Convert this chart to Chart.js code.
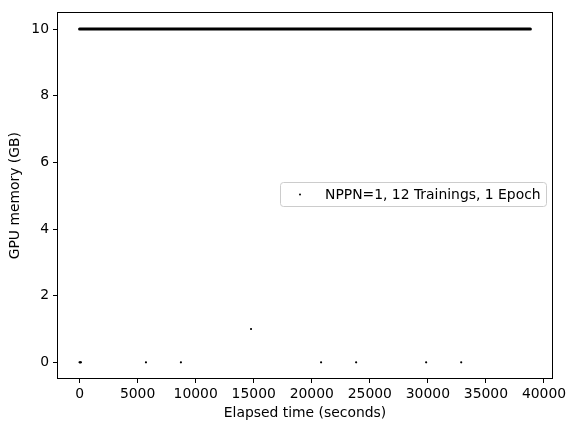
<!DOCTYPE html>
<html>
<head>
<meta charset="utf-8">
<script src="https://cdn.jsdelivr.net/npm/chart.js@4"></script>
<style>
html, body { margin: 0; padding: 0; background: #fff; }
#wrap { width: 576px; height: 432px; }
</style>
</head>
<body>
<div id="wrap"><canvas id="chart" width="576" height="432"></canvas></div>
<script>
// samples (seconds, GB)
const seriesLabel = 'NPPN=1, 12 Trainings, 1 Epoch'
const sampleTimes = [0, 60, 120, 5720, 8730, 14770, 20800, 23820, 29850, 32870]
const sampleMemory = [0, 0, 0, 0, 0, 1, 0, 0, 0, 0]
// the 10 GB samples are so dense they form a solid band
const plateauTimes = [0, 38830]
const plateauMemory = [10, 10]

const xTicks = [0, 5000, 10000, 15000, 20000, 25000, 30000, 35000, 40000]
const yTicks = [0, 2, 4, 6, 8, 10]
const xMin = -1942, xMax = 40776
const yMin = -0.5, yMax = 10.5

const font = { family: 'DejaVu Sans', size: 13.9 }

const points = sampleTimes.map((t, i) => ({ x: t, y: sampleMemory[i] }))
const plateau = plateauTimes.map((t, i) => ({ x: t, y: plateauMemory[i] }))

const boxPlugin = {
    id: 'box',
    afterDraw(chart) {
        const ctx = chart.ctx
        const a = chart.chartArea
        ctx.save()
        ctx.strokeStyle = '#000'
        ctx.lineWidth = 1
        ctx.strokeRect(Math.round(a.left) + 0.5, Math.round(a.top) + 0.5,
            Math.round(a.right - a.left) - 1, Math.round(a.bottom - a.top) - 1)
        ctx.restore()
    }
}

const legendPlugin = {
    id: 'mplLegend',
    afterDraw(chart) {
        const ctx = chart.ctx
        ctx.save()
        ctx.beginPath()
        ctx.roundRect(280.5, 182.5, 266, 24, 3)
        ctx.fillStyle = 'rgba(255,255,255,0.8)'
        ctx.fill()
        ctx.strokeStyle = '#cccccc'
        ctx.lineWidth = 1
        ctx.stroke()
        ctx.beginPath()
        ctx.arc(300, 194.5, 1, 0, Math.PI * 2)
        ctx.fillStyle = '#000'
        ctx.fill()
        ctx.font = '13.9px "DejaVu Sans"'
        ctx.textBaseline = 'middle'
        ctx.fillText(chart.data.datasets[0].label, 325, 195)
        ctx.restore()
    }
}

function axisGrid() {
    return { drawOnChartArea: false, drawTicks: true, tickLength: 4, color: '#000', tickColor: '#000' }
}

const ctx = document.getElementById('chart').getContext('2d')
const chart = new Chart(ctx, {
    type: 'scatter',
    data: {
        datasets: [
            {
                label: seriesLabel,
                data: points,
                pointRadius: 1.1,
                pointBackgroundColor: '#000',
                pointBorderWidth: 0,
                showLine: false
            },
            {
                label: 'plateau',
                data: plateau,
                showLine: true,
                borderColor: '#000',
                borderWidth: 3,
                borderCapStyle: 'round',
                pointRadius: 0
            }
        ]
    },
    options: {
        responsive: false,
        animation: false,
        devicePixelRatio: 1,
        layout: { padding: { left: 0, right: 23, top: 10, bottom: 0 } },
        plugins: {
            legend: { display: false },
            tooltip: { enabled: false }
        },
        scales: {
            x: {
                type: 'linear',
                min: xMin,
                max: xMax,
                afterBuildTicks: s => { s.ticks = xTicks.map(v => ({ value: v })) },
                afterFit: s => { s.height = 53 },
                grid: axisGrid(),
                border: { display: false },
                ticks: { color: '#000', font: font, padding: 3, maxRotation: 0, callback: v => String(v) },
                title: { display: true, text: 'Elapsed time (seconds)', color: '#000', font: font, padding: { top: 0, bottom: 10 } }
            },
            y: {
                type: 'linear',
                min: yMin,
                max: yMax,
                afterBuildTicks: s => { s.ticks = yTicks.map(v => ({ value: v })) },
                afterFit: s => { s.width = 57 },
                grid: axisGrid(),
                border: { display: false },
                ticks: { color: '#000', font: font, padding: 4, callback: v => String(v) },
                title: { display: true, text: 'GPU memory (GB)', color: '#000', font: font, padding: { top: 7, bottom: 0 } }
            }
        }
    },
    plugins: [boxPlugin, legendPlugin]
})
</script>
</body>
</html>
